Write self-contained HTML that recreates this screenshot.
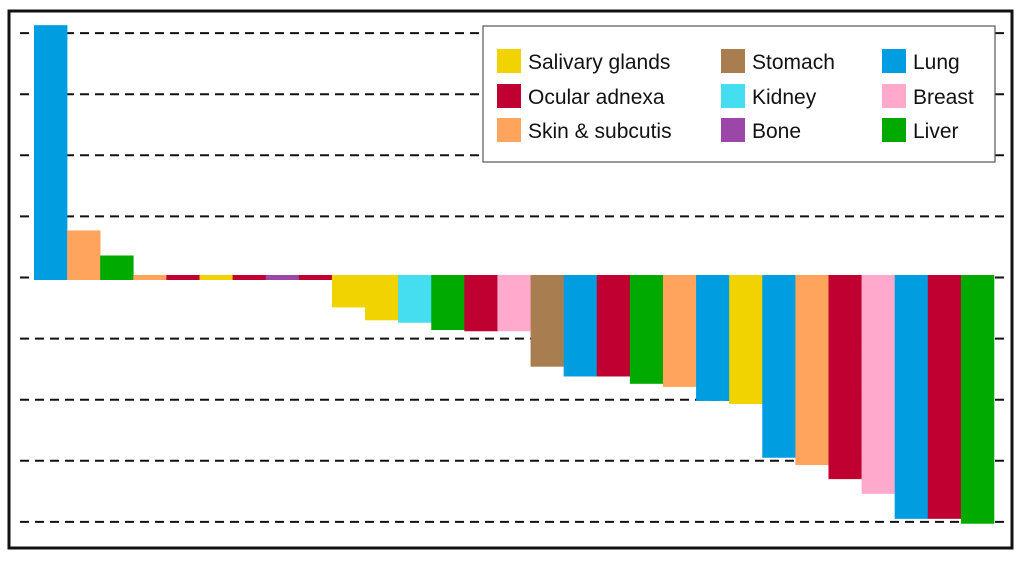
<!DOCTYPE html>
<html><head><meta charset="utf-8"><style>
html,body{margin:0;padding:0;background:#fff;}
svg{display:block;font-family:"Gill Sans","Liberation Sans",sans-serif;}
</style></head><body>
<svg id="chart" width="1024" height="565" viewBox="0 0 1024 565" xmlns="http://www.w3.org/2000/svg">
<rect x="9" y="11" width="1003" height="537" fill="#fff" stroke="#111" stroke-width="3"/>
<g id="grid"></g>
<g id="bars"></g>
<g id="legend">
<rect x="483" y="26" width="512" height="136" fill="#fff" stroke="#555" stroke-width="1.2"/>
</g>
</svg>
<script>
const categories=["Lung","Skin & subcutis","Liver","Skin & subcutis","Ocular adnexa","Salivary glands","Ocular adnexa","Bone","Ocular adnexa","Salivary glands","Salivary glands","Kidney","Liver","Ocular adnexa","Breast","Stomach","Lung","Ocular adnexa","Liver","Skin & subcutis","Lung","Salivary glands","Lung","Skin & subcutis","Ocular adnexa","Breast","Lung","Ocular adnexa","Liver"];
const values=[4.13,0.77,0.36,0.04,0.04,0.04,0.04,0.04,0.04,-0.49,-0.70,-0.74,-0.86,-0.88,-0.88,-1.46,-1.62,-1.62,-1.74,-1.79,-2.02,-2.07,-2.95,-3.07,-3.30,-3.54,-3.95,-3.95,-4.03];
const gridTicks=[4,3,2,1,0,-1,-2,-3,-4];
const legendLabels=["Salivary glands","Ocular adnexa","Skin & subcutis","Stomach","Kidney","Bone","Lung","Breast","Liver"];
const colors={"Salivary glands":"#f0d300","Ocular adnexa":"#c00030","Skin & subcutis":"#ffa45c","Stomach":"#a87d4f","Kidney":"#45ddf0","Bone":"#9b47a8","Lung":"#009de0","Breast":"#ffaacc","Liver":"#00aa00"};
const NS="http://www.w3.org/2000/svg";
const y0=277.5, unit=61.1, xLeft=34, bw=(994-34)/categories.length;
const yScale=v=>y0-v*unit;
const xScale=i=>xLeft+i*bw;
const grid=document.getElementById('grid');
gridTicks.forEach(t=>{
  const l=document.createElementNS(NS,'line');
  
  
  l.setAttribute('x1',20);l.setAttribute('x2',1005);
  l.setAttribute('y1',yScale(t));l.setAttribute('y2',yScale(t));
  l.setAttribute('stroke','#111');l.setAttribute('stroke-width',2);
  l.setAttribute('stroke-dasharray','9 6');
  grid.appendChild(l);
});
const bars=document.getElementById('bars');
values.forEach((v,i)=>{
  const r=document.createElementNS(NS,'rect');
  
  
  let top=v>=0?yScale(v):y0-2.5;
  let bot=v>=0?y0+2.5:yScale(v);
  if(Math.abs(v)<0.06){top=y0-2.5;bot=y0+2.5;}
  r.setAttribute('x',xScale(i));r.setAttribute('width',bw+0.3);
  r.setAttribute('y',top);r.setAttribute('height',bot-top);
  r.setAttribute('fill',colors[categories[i]]);
  bars.appendChild(r);
});
const lg=document.getElementById('legend');
const colX=[497,721,882], rowY=[61,96,130];
legendLabels.forEach((lab,k)=>{
  const c=Math.floor(k/3), rr=k%3;
  const g=document.createElementNS(NS,'g');
  
  
  const s=document.createElementNS(NS,'rect');
  
  
  s.setAttribute('x',colX[c]);s.setAttribute('y',rowY[rr]-12);
  s.setAttribute('width',24);s.setAttribute('height',24);
  s.setAttribute('fill',colors[lab]);
  const t=document.createElementNS(NS,'text');
  
  
  t.setAttribute('x',colX[c]+31);t.setAttribute('y',rowY[rr]+8);
  t.setAttribute('font-size','21');t.setAttribute('fill','#111');
  t.textContent=lab;
  g.appendChild(s);g.appendChild(t);lg.appendChild(g);
});
</script>
</body></html>
